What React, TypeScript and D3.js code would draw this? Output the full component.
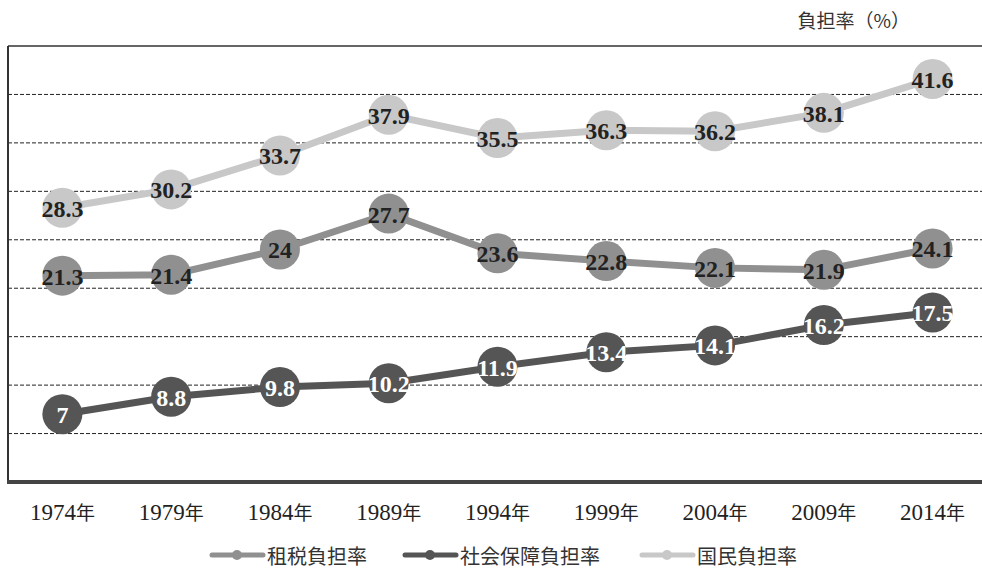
import * as d3 from "d3";

const years = ["1974", "1979", "1984", "1989", "1994", "1999", "2004", "2009", "2014"];
const taxRate = [21.3, 21.4, 24, 27.7, 23.6, 22.8, 22.1, 21.9, 24.1];
const socialRate = [7, 8.8, 9.8, 10.2, 11.9, 13.4, 14.1, 16.2, 17.5];
const nationalRate = [28.3, 30.2, 33.7, 37.9, 35.5, 36.3, 36.2, 38.1, 41.6];
const gridValues = [5, 10, 15, 20, 25, 30, 35, 40];

const series = [
  { name: "国民負担率", values: nationalRate, color: "#c8c8c8", text: "#222" },
  { name: "租税負担率", values: taxRate, color: "#909090", text: "#222" },
  { name: "社会保障負担率", values: socialRate, color: "#555555", text: "#fff" },
];
const legendOrder = ["租税負担率", "社会保障負担率", "国民負担率"];

const W = 982;
const H = 568;
const left = 8;
const top = 46;
const bottom = 482;

export default function App() {
  const x = d3.scaleBand<string>().domain(years).range([left, 987]);
  const y = d3.scaleLinear().domain([0, 45]).range([bottom, top]);
  const cx = (yr: string) => (x(yr) || 0) + x.bandwidth() / 2;
  const line = d3
    .line<number>()
    .x((_, i) => cx(years[i]))
    .y((d) => y(d));

  // legend positions (line start x)
  const legendX = [212, 405, 642];

  return (
    <svg
      width={W}
      height={H}
      style={{ position: "absolute", left: 0, top: 0, background: "#fff" }}
    >
      {/* title */}
      <text
        x={910}
        y={28}
        textAnchor="end"
        fontFamily="'Noto Sans CJK JP', sans-serif"
        fontSize={19}
        fill="#333"
      >
        負担率（%）
      </text>

      {/* grid */}
      {gridValues.map((v) => (
        <line
          key={v}
          x1={left}
          x2={W}
          y1={y(v)}
          y2={y(v)}
          stroke="#222"
          strokeWidth={1}
          strokeDasharray="4,2"
        />
      ))}
      <line x1={left} x2={W} y1={y(45)} y2={y(45)} stroke="#333" strokeWidth={1.5} />
      <line x1={left} x2={left} y1={top} y2={bottom} stroke="#333" strokeWidth={2} />
      <line x1={left - 1} x2={W} y1={bottom} y2={bottom} stroke="#444" strokeWidth={4} />

      {/* x labels */}
      {years.map((yr) => (
        <text
          key={yr}
          x={cx(yr)}
          y={520}
          textAnchor="middle"
          fontFamily="'Liberation Serif', serif"
          fontSize={23}
          fill="#222"
        >
          {yr}
          <tspan fontFamily="'Noto Sans CJK JP', sans-serif" fontSize={19}>
            年
          </tspan>
        </text>
      ))}

      {/* series */}
      {series.map((s) => (
        <g key={s.name}>
          <path d={line(s.values) || ""} fill="none" stroke={s.color} strokeWidth={7} />
          {s.values.map((v, i) => (
            <circle key={i} cx={cx(years[i])} cy={y(v)} r={20} fill={s.color} />
          ))}
        </g>
      ))}
      {series.map((s) => (
        <g key={s.name + "-labels"}>
          {s.values.map((v, i) => (
            <text
              key={i}
              x={cx(years[i])}
              y={y(v) + 9}
              textAnchor="middle"
              fontFamily="'Liberation Serif', serif"
              fontWeight="bold"
              fontSize={24}
              fill={s.text}
            >
              {v}
            </text>
          ))}
        </g>
      ))}

      {/* legend */}
      {legendOrder.map((name, i) => {
        const s = series.find((d) => d.name === name)!;
        const lx = legendX[i];
        return (
          <g key={name}>
            <line
              x1={lx}
              x2={lx + 51}
              y1={555}
              y2={555}
              stroke={s.color}
              strokeWidth={5}
              strokeLinecap="round"
            />
            <circle cx={lx + 25} cy={555} r={5} fill={s.color} />
            <text
              x={lx + 55}
              y={555}
              dominantBaseline="central"
              fontFamily="'Noto Sans CJK JP', sans-serif"
              fontSize={20}
              fill="#333"
            >
              {name}
            </text>
          </g>
        );
      })}
    </svg>
  );
}
